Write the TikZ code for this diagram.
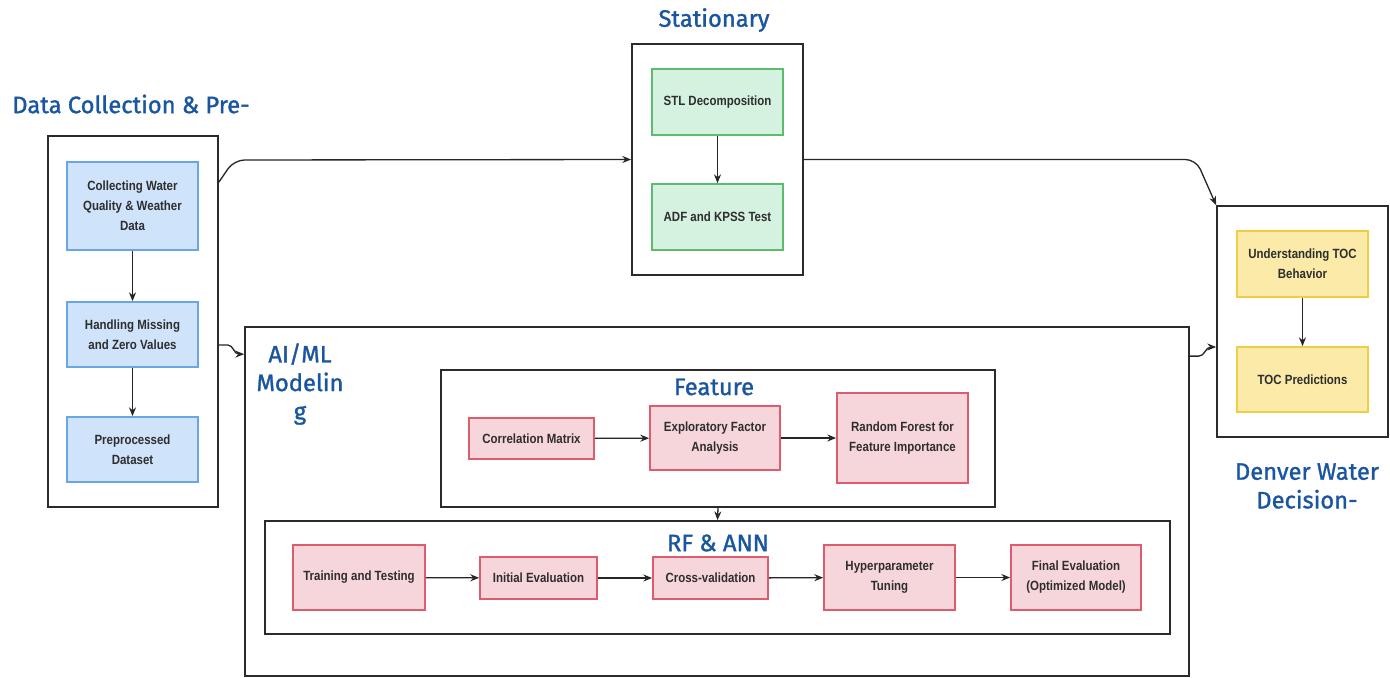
\documentclass[tikz,border=0pt]{standalone}
\usepackage{fontspec}
\usetikzlibrary{arrows.meta,calc}
\newfontfamily\ttlfont{Fira Sans}[FakeBold=1.3]
\newfontfamily\boxfont{Liberation Sans}[FakeStretch=0.86]
\definecolor{ttl}{HTML}{1A56A0}
\definecolor{txt}{HTML}{2E2E2E}
\definecolor{cline}{HTML}{2B2B2B}
\definecolor{bfill}{HTML}{CFE3FA}
\definecolor{bline}{HTML}{6AA6E6}
\definecolor{gfill}{HTML}{D5F1E0}
\definecolor{gline}{HTML}{5DBB6F}
\definecolor{yfill}{HTML}{FBEAA8}
\definecolor{yline}{HTML}{EDCF45}
\definecolor{pfill}{HTML}{F6D6DB}
\definecolor{pline}{HTML}{DE5C6E}
\def\U{0.02cm}
\tikzset{
  box/.style={draw, line width=1pt, align=center, text=txt, inner sep=2pt,
    font=\boxfont\bfseries\fontsize{7.6}{11.4}\selectfont},
  bluebox/.style={box, fill=bfill, draw=bline},
  greenbox/.style={box, fill=gfill, draw=gline},
  yelbox/.style={box, fill=yfill, draw=yline},
  pinkbox/.style={box, fill=pfill, draw=pline},
  cont/.style={draw=cline, line width=1pt, fill=white, inner sep=0pt},
  ttlnode/.style={text=ttl, align=center, inner sep=0pt,
    font=\ttlfont\fontsize{13.5}{16.3}\selectfont},
  arr/.style={-{Stealth[length=5pt,width=4pt]}, line width=0.75pt, draw=black!85},
}
\begin{document}
\begin{tikzpicture}[x=0.02cm, y=-0.02cm]
\useasboundingbox (0,0) rectangle (1390,677);
% containers
\node[cont, minimum width=170*\U, minimum height=371*\U] (dc) at (133,321.5) {};
\node[cont, minimum width=171*\U, minimum height=231*\U] (st) at (717.5,159.5) {};
\node[cont, minimum width=171*\U, minimum height=231*\U] (dw) at (1302.5,321.5) {};
\node[cont, minimum width=944*\U, minimum height=349*\U] (ai) at (717,501.5) {};
\node[cont, minimum width=554*\U, minimum height=137*\U] (fe) at (718,438.5) {};
\node[cont, minimum width=905*\U, minimum height=113*\U] (rf) at (717.5,577.5) {};
% titles
\node[ttlnode, anchor=west] (tdc) at (12,104) {Data Collection \& Pre-};
\node[ttlnode] (tst) at (714,20) {Stationary};
\node[ttlnode] (tai) at (300,384) {AI/ML\\Modelin\\g};
\node[ttlnode] (tfe) at (714,387) {Feature};
\node[ttlnode] (trf) at (718,543) {RF \& ANN};
\node[ttlnode] (tdw) at (1307,486) {Denver Water\\Decision-};
% data collection
\node[bluebox, minimum width=131*\U, minimum height=88*\U] (c1) at (132.5,206) {Collecting Water\\Quality \& Weather\\Data};
\node[bluebox, minimum width=131*\U, minimum height=65*\U] (c2) at (132.5,334.5) {Handling Missing\\and Zero Values};
\node[bluebox, minimum width=131*\U, minimum height=65*\U] (c3) at (132.5,449.5) {Preprocessed\\Dataset};
% stationary
\node[greenbox, minimum width=131*\U, minimum height=66*\U] (s1) at (717.5,102) {STL Decomposition};
\node[greenbox, minimum width=131*\U, minimum height=66*\U] (s2) at (717.5,217) {ADF and KPSS Test};
% denver water
\node[yelbox, minimum width=131*\U, minimum height=66*\U] (d1) at (1302.5,264) {Understanding TOC\\Behavior};
\node[yelbox, minimum width=131*\U, minimum height=65*\U] (d2) at (1302.5,379.5) {TOC Predictions};
% feature
\node[pinkbox, minimum width=125*\U, minimum height=41*\U] (f1) at (531.5,438.5) {Correlation Matrix};
\node[pinkbox, minimum width=130*\U, minimum height=64*\U] (f2) at (715,438) {Exploratory Factor\\Analysis};
\node[pinkbox, minimum width=131*\U, minimum height=90*\U] (f3) at (902.5,438) {Random Forest for\\Feature Importance};
% rf & ann
\node[pinkbox, minimum width=132*\U, minimum height=65*\U] (r1) at (359,577.5) {Training and Testing};
\node[pinkbox, minimum width=117*\U, minimum height=42*\U] (r2) at (538.5,578) {Initial Evaluation};
\node[pinkbox, minimum width=115*\U, minimum height=42*\U] (r3) at (710.5,578) {Cross-validation};
\node[pinkbox, minimum width=131*\U, minimum height=65*\U] (r4) at (889.5,577.5) {Hyperparameter\\Tuning};
\node[pinkbox, minimum width=130*\U, minimum height=65*\U] (r5) at (1076,577.5) {Final Evaluation\\(Optimized Model)};
% internal arrows
\draw[arr] (c1) -- (c2);
\draw[arr] (c2) -- (c3);
\draw[arr] (s1) -- (s2);
\draw[arr] (d1) -- (d2);
\draw[arr] (f1) -- (f2);
\draw[arr] (f2) -- (f3);
\draw[arr] (fe.south) -- (rf.north);
\draw[arr] (r1) -- (r2);
\draw[arr] (r2) -- (r3);
\draw[arr] (r3) -- (r4);
\draw[arr] (r4) -- (r5);
% connectors between stages
\coordinate (k1) at (234,160);
\draw[arr, rounded corners=6pt] ($(dc.north east)+(0,47)$) -- (k1) -- (st.west);
\coordinate (k2) at (1196,159.5);
\draw[arr, rounded corners=6pt] (st.east) -- (k2) -- (dw.north west);
\draw[arr] ($(dc.east)+(0,23.5)$) -- ++(9,0) to[out=0,in=180] ($(ai.north west)+(-5,28)$) -- ($(ai.north west)+(0,28)$);
\draw[arr] ($(ai.north east)+(0,30)$) -- ++(9,0) to[out=0,in=180] ($(dw.west)+(-5,25.5)$) -- ($(dw.west)+(0,25.5)$);
\end{tikzpicture}
\end{document}
